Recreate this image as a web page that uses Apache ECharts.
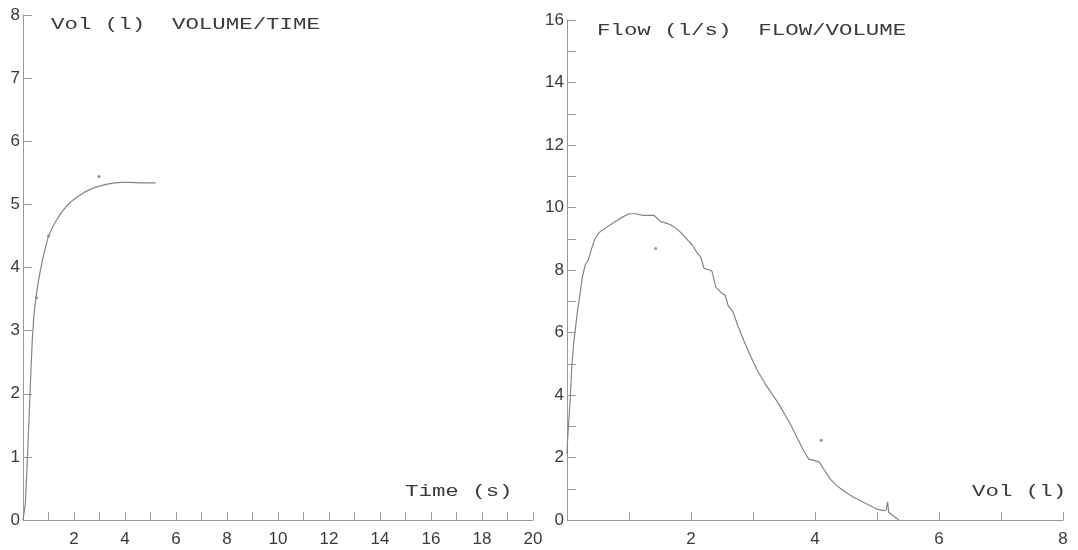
<!DOCTYPE html>
<html><head><meta charset="utf-8">
<script src="https://cdn.jsdelivr.net/npm/echarts/dist/echarts.min.js"></script>
<style>html,body{margin:0;padding:0;background:#fff}#c{width:1078px;height:550px}</style>
</head><body><div id="c"></div>
<script>
// Volume / time curve
const timeS = [0.0,0.05,0.09,0.13,0.17,0.22,0.27,0.32,0.37,0.43,0.5,0.58,0.67,0.77,0.88,1.0,1.15,1.3,1.5,1.7,1.9,2.1,2.4,2.7,3.0,3.3,3.6,3.9,4.2,4.6,5.0,5.2];
const volT = [0,0.03,0.25,0.6,0.95,1.45,1.95,2.45,2.9,3.25,3.5,3.72,3.93,4.13,4.32,4.5,4.63,4.74,4.87,4.97,5.05,5.11,5.19,5.25,5.29,5.32,5.34,5.35,5.35,5.34,5.34,5.34];
const markTime = [0.53, 1.0, 2.98];
const markVolT = [3.52, 4.5, 5.44];
// Flow / volume curve
const volL = [0.0,0.01,0.03,0.05,0.08,0.11,0.14,0.17,0.2,0.25,0.3,0.34,0.4,0.45,0.52,0.59,0.7,0.78,0.9,1.0,1.1,1.23,1.4,1.51,1.6,1.68,1.78,1.85,1.95,2.02,2.1,2.16,2.21,2.3,2.34,2.4,2.5,2.55,2.6,2.68,2.75,2.85,2.97,3.08,3.2,3.3,3.42,3.52,3.62,3.72,3.82,3.9,4.0,4.07,4.15,4.25,4.35,4.45,4.6,4.75,4.9,5.0,5.1,5.15,5.17,5.19,5.25,5.3,5.35];
const flowLs = [2.1,2.6,3.2,3.8,5.0,5.7,6.2,6.7,7.1,7.8,8.2,8.3,8.7,9.0,9.2,9.3,9.45,9.55,9.7,9.8,9.8,9.75,9.75,9.55,9.5,9.44,9.3,9.17,8.95,8.8,8.55,8.4,8.05,8.0,7.95,7.45,7.25,7.2,6.85,6.65,6.25,5.75,5.2,4.75,4.35,4.05,3.7,3.35,3.0,2.6,2.2,1.95,1.9,1.85,1.6,1.3,1.1,0.95,0.75,0.6,0.45,0.35,0.3,0.32,0.58,0.25,0.15,0.08,0.0];
const markVol = [1.43, 4.1];
const markFlow = [8.69, 2.55];
// Texts
const titleLeft = 'Vol (l)  VOLUME/TIME';
const titleRight = 'Flow (l/s)  FLOW/VOLUME';
const xNameLeft = 'Time (s)';
const xNameRight = 'Vol (l)';

const zip = (a, b) => a.map((v, i) => [v, b[i]]);
const axisColor = '#999';
const textColor = '#3a3a3a';
const lineColor = '#858585';
const monoFont = '16px "Liberation Mono"';

function xAxisCfg(gi, max) {
  return {
    gridIndex: gi, type: 'value', min: 0, max: max, interval: 2,
    axisLine: { show: true, onZero: false, lineStyle: { color: axisColor, width: 1 } },
    axisTick: { show: true, inside: true, length: 8, lineStyle: { color: axisColor } },
    minorTick: { show: true, splitNumber: 2, length: 8, lineStyle: { color: axisColor } },
    splitLine: { show: false },
    axisLabel: { color: textColor, fontSize: 17, fontFamily: 'Liberation Sans', margin: 11, showMinLabel: false }
  };
}
function yAxisCfg(gi, max, interval, minor) {
  return {
    gridIndex: gi, type: 'value', min: 0, max: max, interval: interval,
    axisLine: { show: true, onZero: false, lineStyle: { color: axisColor, width: 1 } },
    axisTick: { show: true, inside: true, length: 9, lineStyle: { color: axisColor } },
    minorTick: { show: minor, splitNumber: 2, length: 9, lineStyle: { color: axisColor } },
    splitLine: { show: false },
    axisLabel: { color: textColor, fontSize: 17, fontFamily: 'Liberation Sans', margin: 3 }
  };
}

const chart = echarts.init(document.getElementById('c'));
chart.setOption({
  animation: false,
  backgroundColor: '#fff',
  grid: [
    { left: 23, right: 545, top: 15, bottom: 30 },
    { left: 567, right: 15, top: 20, bottom: 30 }
  ],
  xAxis: [xAxisCfg(0, 20), xAxisCfg(1, 8)],
  yAxis: [yAxisCfg(0, 8, 1, false), yAxisCfg(1, 16, 2, true)],
  series: [
    { type: 'line', xAxisIndex: 0, yAxisIndex: 0, data: zip(timeS, volT), showSymbol: false,
      lineStyle: { color: lineColor, width: 1.2 } },
    { type: 'scatter', xAxisIndex: 0, yAxisIndex: 0, data: zip(markTime, markVolT), symbolSize: 3,
      itemStyle: { color: '#777' } },
    { type: 'line', xAxisIndex: 1, yAxisIndex: 1, data: zip(volL, flowLs), showSymbol: false,
      lineStyle: { color: lineColor, width: 1.2 } },
    { type: 'scatter', xAxisIndex: 1, yAxisIndex: 1, data: zip(markVol, markFlow), symbolSize: 3,
      itemStyle: { color: '#777' } }
  ],
  graphic: [
    { type: 'text', x: 51, y: 25, scaleX: 1.4, style: { text: titleLeft, font: monoFont, fill: textColor, verticalAlign: 'middle' } },
    { type: 'text', x: 597, y: 31, scaleX: 1.4, style: { text: titleRight, font: monoFont, fill: textColor, verticalAlign: 'middle' } },
    { type: 'text', x: 405, y: 492, scaleX: 1.4, style: { text: xNameLeft, font: monoFont, fill: textColor, verticalAlign: 'middle' } },
    { type: 'text', x: 972, y: 492, scaleX: 1.4, style: { text: xNameRight, font: monoFont, fill: textColor, verticalAlign: 'middle' } }
  ]
});
</script>
</body></html>
